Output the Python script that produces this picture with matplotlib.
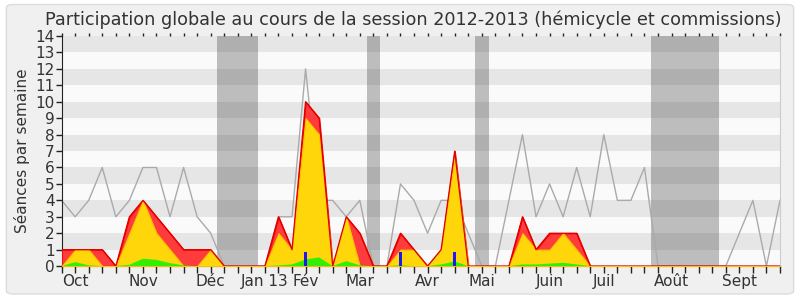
import matplotlib
matplotlib.use("Agg")
import matplotlib.pyplot as plt
from matplotlib.patches import FancyBboxPatch

# semaines 0..53 de la session 2012-2013
semaines = list(range(54))

# maximum de presence (ligne grise)
presence_max = [4, 3, 4, 6, 3, 4, 6, 6, 3, 6, 3, 2, 0, 0, 0, 0, 3, 3, 12, 4,
                4, 3, 4, 0, 0, 5, 4, 2, 4, 4, 2, 0, 0, 4, 8, 3, 5, 3, 6, 3,
                8, 4, 4, 6, 0, 0, 0, 0, 0, 0, 2, 4, 0, 4]
# total (rouge), hemicycle (jaune), commissions (vert)
total = [1, 1, 1, 1, 0, 3, 4, 3, 2, 1, 1, 1, 0, 0, 0, 0, 3, 1, 10, 9,
         0, 3, 2, 0, 0, 2, 1, 0, 1, 7, 0, 0, 0, 0, 3, 1, 2, 2, 2, 0,
         0, 0, 0, 0, 0, 0, 0, 0, 0, 0, 0, 0, 0, 0]
hemicycle = [0, 1, 1, 0, 0, 2, 4, 2, 1, 0, 0, 1, 0, 0, 0, 0, 2, 1, 9, 8,
             0, 3, 0, 0, 0, 1, 1, 0, 1, 6.7, 0, 0, 0, 0, 2, 1, 1, 2, 1, 0,
             0, 0, 0, 0, 0, 0, 0, 0, 0, 0, 0, 0, 0, 0]
commissions = [0, 0.24, 0.05, 0, 0, 0.08, 0.45, 0.38, 0.18, 0.04, 0, 0, 0, 0, 0, 0,
               0.04, 0.1, 0.4, 0.53, 0, 0.3, 0.05, 0, 0, 0.05, 0, 0, 0.1, 0.28,
               0, 0, 0, 0, 0.1, 0.1, 0.15, 0.2, 0.1, 0, 0, 0, 0, 0, 0, 0, 0, 0,
               0, 0, 0, 0, 0, 0]
# questions orales (barres bleues)
questions_sem = [18, 25, 29]
questions_val = [0.85, 0.85, 0.85]

# vacances parlementaires (debut, fin en semaines)
vacances = [(11.5, 14.5), (22.5, 23.5), (30.5, 31.5), (43.5, 48.5)]

mois_pos = [1, 6, 11, 15, 18, 22, 27, 31, 36, 40, 45, 50]
mois_lab = ['Oct', 'Nov', 'Déc', 'Jan 13', 'Fév', 'Mar', 'Avr', 'Mai',
            'Juin', 'Juil', 'Août', 'Sept']

fig = plt.figure(figsize=(8, 3), dpi=100)
fig.patch.set_facecolor('white')
fig.patches.append(FancyBboxPatch((0.008, 0.02), 0.984, 0.965,
                                  boxstyle="round,pad=0,rounding_size=0.01",
                                  transform=fig.transFigure, facecolor='#f0f0f0',
                                  edgecolor='#dcdcdc', linewidth=1, zorder=-10))
ax = fig.add_axes([0.077, 0.113, 0.898, 0.767])
ax.set_facecolor('#fafafa')

for k in range(14):
    if k % 2 == 1:
        ax.axhspan(k, k + 1, color='#e6e6e6', lw=0, zorder=0)
for a, b in vacances:
    ax.axvspan(a, b, color='#303030', alpha=0.3, lw=0, zorder=1)

ax.plot(semaines, presence_max, color='#aaaaaa', lw=1, zorder=2)
ax.fill_between(semaines, 0, total, facecolor='#ff3c3c', edgecolor='#ff0000',
                lw=1, zorder=3)
ax.fill_between(semaines, 0, hemicycle, facecolor='#ffd60a', edgecolor='#ffc000',
                lw=0.8, zorder=4)
ax.fill_between(semaines, 0, commissions, facecolor='#33ee00', lw=0, zorder=5)
ax.bar(questions_sem, questions_val, width=0.25, color='#1a1aee', zorder=6)
ax.plot(semaines, total, color='#dd0000', lw=0.9, zorder=7)

ax.set_xlim(0, 53)
ax.set_ylim(0, 14)
ax.set_yticks(range(15))
ax.set_xticks(semaines)
labels = [''] * len(semaines)
for p, l in zip(mois_pos, mois_lab):
    labels[p] = l
ax.set_xticklabels(labels)
ax.tick_params(axis='x', direction='out', length=5, width=1, colors='#222222',
               labelsize=11, labelcolor='#333333', pad=1, top=True, labeltop=False)
ax.tick_params(axis='y', direction='out', length=4, width=1, colors='#222222',
               labelsize=11, labelcolor='#333333', pad=1)
for t in ax.xaxis.get_major_ticks():
    t.tick2line.set_markersize(2)
    t.tick2line.set_color('#444444')

ax.spines['top'].set_visible(False)
ax.spines['right'].set_color('#cccccc')
ax.spines['left'].set_color('#222222')
ax.spines['bottom'].set_color('#222222')

ax.set_ylabel('Séances par semaine', fontsize=11, color='#333333', labelpad=4)
fig.text(0.517, 0.935, 'Participation globale au cours de la session 2012-2013 (hémicycle et commissions)',
         ha='center', va='center', fontsize=12.7, color='#333333')

fig.savefig('out.png', dpi=100, facecolor=fig.get_facecolor())
